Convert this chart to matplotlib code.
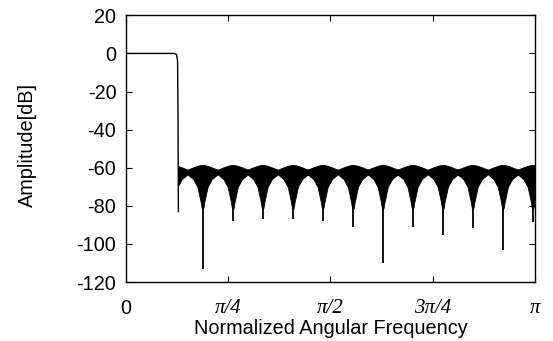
import numpy as np
import matplotlib
matplotlib.use('Agg')
import matplotlib.pyplot as plt
from matplotlib.patches import Rectangle

plt.rcParams['axes.unicode_minus'] = False

# Frequency in units of pi, amplitude in dB
pass_freq = [0.0, 0.118, 0.1235, 0.126, 0.127, 0.128]
pass_db = [0.0, 0.0, -0.6, -4.0, -30.0, -83.0]

stop_start = 0.128
lobe_spacing = 0.0735

# deep notches in the stopband
notch_freq = [0.187, 0.261, 0.334, 0.408, 0.481, 0.555, 0.628, 0.701, 0.775, 0.848, 0.922, 0.995]
notch_db = [-113, -88, -87, -87, -88, -91, -110, -91, -95.5, -91.5, -103, -88.5]

# shape of one ripple lobe around a notch (offset as fraction of lobe spacing)
lobe_offset = [-0.5, -0.31, -0.17, -0.06, -0.03, 0.0, 0.03, 0.06, 0.17, 0.31, 0.5]
lobe_upper = [-61.0, -59.8, -59.0, -58.6, -58.5, -58.5, -58.5, -58.6, -59.0, -59.8, -61.0]
lobe_lower = [-63.5, -66.0, -70.0, -78.0, -81.0, -82.0, -81.0, -78.0, -70.0, -66.0, -63.5]

xtick_pos = [0, 0.25, 0.5, 0.75, 1.0]
xtick_labels = ['0', 'π/4', 'π/2', '3π/4', 'π']
ytick_pos = [20, 0, -20, -40, -60, -80, -100, -120]

fig = plt.figure(figsize=(5.53, 3.41), dpi=100)
ax = fig.add_axes([0.228, 0.173, 0.739, 0.782])

# passband and transition
ax.plot(pass_freq, pass_db, color='k', lw=1.0)

# stopband ripple band, built lobe by lobe
centers = [notch_freq[0] - lobe_spacing] + notch_freq
band_f = np.concatenate([c + np.array(lobe_offset) * lobe_spacing for c in centers])
band_hi = np.tile(lobe_upper, len(centers))
band_lo = np.tile(lobe_lower, len(centers))
poly = ax.fill_between(band_f, band_lo, band_hi, color='k', lw=0.6, edgecolor='k')
poly.set_clip_path(Rectangle((stop_start, -200), 1.0 - stop_start, 300, transform=ax.transData))

# notch spikes
ax.vlines(notch_freq, notch_db, -80, color='k', lw=1.3)

ax.set_xlim(0, 1)
ax.set_ylim(-120, 20)
ax.set_xticks(xtick_pos)
ax.set_xticklabels(xtick_labels)
ax.set_yticks(ytick_pos)
ax.tick_params(direction='in', top=True, right=True, length=4.5, width=0.8, labelsize=14.3)
ax.tick_params(axis='y', pad=7)
ax.tick_params(axis='x', pad=12)
for lab in ax.get_xticklabels()[1:]:
    lab.set_fontfamily('Liberation Serif')
    lab.set_fontstyle('italic')
    lab.set_fontsize(15)
for lab in ax.get_yticklabels() + ax.get_xticklabels()[:1]:
    lab.set_fontfamily('Liberation Sans')

for sp in ax.spines.values():
    sp.set_linewidth(1.0)

ax.set_xlabel('Normalized Angular Frequency', fontsize=14.3, family='Liberation Sans', labelpad=1)
ax.set_ylabel('Amplitude[dB]', fontsize=14.3, family='Liberation Sans')
ax.yaxis.set_label_coords(-0.218, 0.513)

fig.savefig('out.png', dpi=100)
